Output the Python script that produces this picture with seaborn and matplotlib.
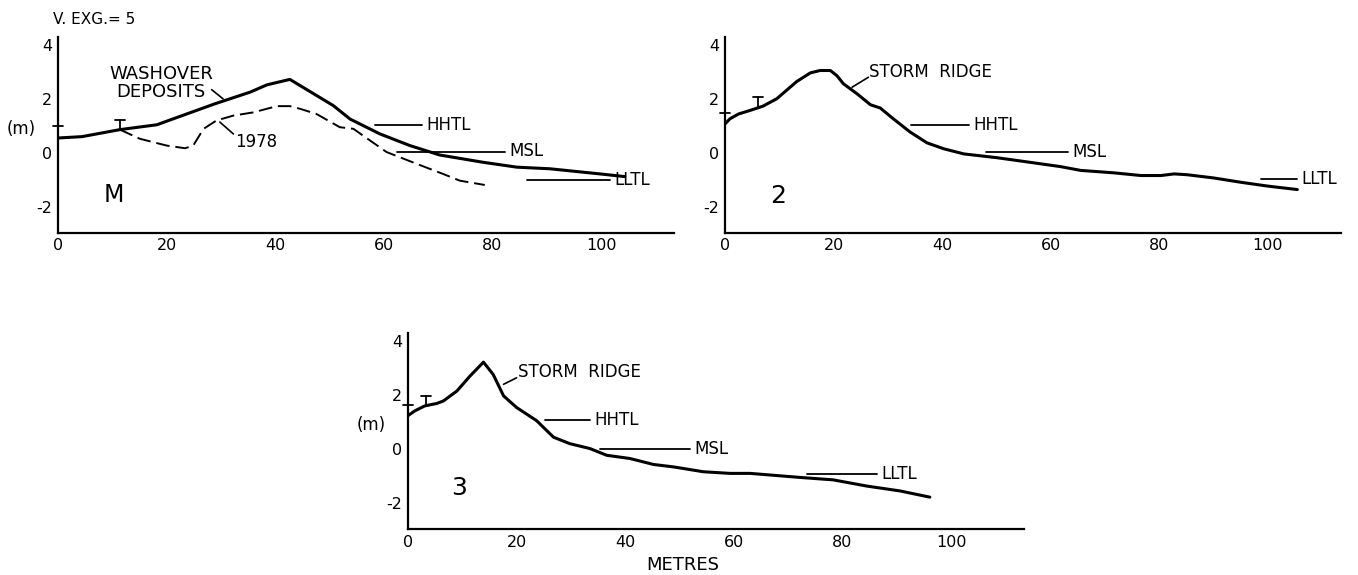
import matplotlib
matplotlib.use("Agg")
import matplotlib.pyplot as plt
import seaborn as sns
import pandas as pd

# ---------------- data ----------------
# Profile M, present surface (solid)
m_x = [0, 4.4, 11.4, 18.2, 23.7, 28.8, 35.4, 38.5, 42.7, 44.6, 50.7, 53.8, 59.3, 64.8, 70.3, 78.3, 84.5, 90.6, 99.8, 104.4]
m_y = [0.55, 0.6, 0.86, 1.04, 1.44, 1.81, 2.25, 2.52, 2.72, 2.49, 1.75, 1.25, 0.70, 0.27, -0.08, -0.35, -0.53, -0.59, -0.78, -0.88]
# Profile M, 1978 surface (dashed)
m78_x = [11.4, 15.1, 20.0, 23.4, 24.9, 26.8, 29.2, 32.3, 36.0, 40.3, 42.7, 44.6, 47.6, 51.9, 54.4, 60.5, 66.1, 70.9, 74.0, 78.6]
m78_y = [0.86, 0.52, 0.27, 0.17, 0.27, 0.89, 1.20, 1.38, 1.50, 1.73, 1.73, 1.63, 1.44, 0.95, 0.89, 0.03, -0.41, -0.78, -1.03, -1.19]
# Profile 2
p2_x = [0, 0.9, 2.5, 4.6, 7.0, 9.5, 11.3, 13.2, 15.7, 17.5, 19.4, 20.6, 21.8, 24.3, 26.8, 28.6, 31.0, 34.1, 37.2, 40.3,
        44.0, 50.1, 56.5, 61.8, 65.5, 71.6, 76.6, 80.3, 82.7, 85.1, 90.0, 95.0, 99.9, 105.4]
p2_y = [1.07, 1.26, 1.44, 1.57, 1.73, 2.0, 2.31, 2.64, 2.96, 3.05, 3.05, 2.86, 2.56, 2.19, 1.78, 1.66, 1.26, 0.77, 0.37, 0.15,
        -0.04, -0.18, -0.36, -0.51, -0.65, -0.74, -0.84, -0.84, -0.78, -0.81, -0.93, -1.09, -1.23, -1.36]
# Profile 3
p3_x = [0, 1.3, 3.1, 5.3, 6.5, 9.0, 11.4, 13.9, 15.7, 17.6, 20.0, 23.7, 26.8, 29.8, 33.5, 36.6, 40.9, 45.2, 48.9, 54.4,
        59.3, 63.0, 72.2, 78.3, 84.5, 90.6, 96.1]
p3_y = [1.25, 1.43, 1.61, 1.70, 1.79, 2.16, 2.71, 3.23, 2.77, 1.98, 1.55, 1.06, 0.45, 0.21, 0.03, -0.22, -0.34, -0.56, -0.65, -0.83,
        -0.89, -0.89, -1.04, -1.13, -1.36, -1.54, -1.77]

# Tide levels: (label, x start, x end, elevation)
m_levels = [("HHTL", 58.4, 67.0, 1.04), ("MSL", 62.4, 82.3, 0.05), ("LLTL", 86.3, 101.6, -0.99)]
p2_levels = [("HHTL", 34.3, 45.0, 1.04), ("MSL", 48.0, 63.1, 0.03), ("LLTL", 98.7, 105.4, -0.96)]
p3_levels = [("HHTL", 25.2, 33.5, 1.10), ("MSL", 35.4, 51.9, 0.03), ("LLTL", 73.4, 86.3, -0.93)]

# Benchmark markers: (x, y bottom, y top)
m_marks = [(0, 0.55, 0.98), (11.4, 0.86, 1.23)]
p2_marks = [(0, 1.07, 1.47), (6.1, 1.69, 2.06)]
p3_marks = [(0, 1.25, 1.63), (3.3, 1.68, 1.98)]

x_ticks = [0, 20, 40, 60, 80, 100]
y_ticks = [-2, 0, 2, 4]
y_ticklabels = ["-2", "0", "2", "4"]

# ---------------- figure ----------------
sns.set_theme(style="white")
plt.rcParams["font.family"] = ["DejaVu Sans"]
plt.rcParams["text.color"] = "black"
plt.rcParams["axes.labelcolor"] = "black"
plt.rcParams["xtick.color"] = "black"
plt.rcParams["ytick.color"] = "black"

W, H = 1358, 575
fig = plt.figure(figsize=(W / 100, H / 100), dpi=100)

XMAX = 113.5
YMIN, YMAX = -2.95, 4.3
AW = XMAX * 5.43 / W
AH = (YMAX - YMIN) * 27.0 / H


def make_ax(left_px, bottom_px):
    ax = fig.add_axes([left_px / W, 1 - bottom_px / H, AW, AH])
    ax.set_xlim(0, XMAX)
    ax.set_ylim(YMIN, YMAX)
    for s in ["top", "right"]:
        ax.spines[s].set_visible(False)
    for s in ["left", "bottom"]:
        ax.spines[s].set_color("black")
        ax.spines[s].set_linewidth(1.6)
    ax.set_xticks(x_ticks)
    ax.set_yticks(y_ticks)
    ax.set_yticklabels(y_ticklabels)
    ax.tick_params(direction="in", length=5, width=1.2, colors="black", labelcolor="black",
                   labelsize=11.5, pad=4)
    ax.set_xlabel("")
    ax.set_ylabel("")
    ax.grid(False)
    ax.patch.set_alpha(0)
    return ax


def profile(ax, xs, ys, **kw):
    df = pd.DataFrame({"x": xs, "y": ys})
    sns.lineplot(data=df, x="x", y="y", ax=ax, color="black", estimator=None, **kw)
    ax.set_xlabel("")
    ax.set_ylabel("")


def levels(ax, lv):
    for name, x0, x1, y in lv:
        ax.plot([x0, x1], [y, y], color="black", lw=1.3)
        ax.text(x1 + 0.8, y, name, fontsize=12, va="center", ha="left", color="black")


def marks(ax, mk):
    for x, y0, y1 in mk:
        ax.plot([x, x], [y0, y1], color="black", lw=1.3, clip_on=False)
        ax.plot([x - 0.9, x + 0.9], [y1, y1], color="black", lw=1.3, clip_on=False)


# Panel M
axM = make_ax(58, 232.5)
profile(axM, m_x, m_y, lw=2.2)
profile(axM, m78_x, m78_y, lw=1.4, linestyle=(0, (7, 3)))
levels(axM, m_levels)
marks(axM, m_marks)
axM.text(19.0, 2.58, "WASHOVER\nDEPOSITS", fontsize=13, ha="center", va="center", linespacing=1.0)
axM.plot([28.3, 30.4], [2.34, 2.0], color="black", lw=1.2)
axM.plot([29.8, 32.3], [1.14, 0.70], color="black", lw=1.2)
axM.text(32.6, 0.40, "1978", fontsize=12, ha="left", va="center")
axM.text(10.2, -1.55, "M", fontsize=17, ha="center", va="center")
fig.text(53 / W, 1 - 20 / H, "V. EXG.= 5", fontsize=11, ha="left", va="center")
fig.text(7 / W, 1 - 129 / H, "(m)", fontsize=12, ha="left", va="center")

# Panel 2
ax2 = make_ax(725, 232.5)
profile(ax2, p2_x, p2_y, lw=2.2)
levels(ax2, p2_levels)
marks(ax2, p2_marks)
ax2.plot([23.4, 26.4], [2.43, 2.80], color="black", lw=1.2)
ax2.text(26.6, 3.0, "STORM  RIDGE", fontsize=12, ha="left", va="center")
ax2.text(9.8, -1.58, "2", fontsize=18, ha="center", va="center")

# Panel 3
ax3 = make_ax(408, 529)
profile(ax3, p3_x, p3_y, lw=2.2)
levels(ax3, p3_levels)
marks(ax3, p3_marks)
ax3.plot([17.6, 20.0], [2.41, 2.65], color="black", lw=1.2)
ax3.text(20.3, 2.85, "STORM  RIDGE", fontsize=12, ha="left", va="center")
ax3.text(9.4, -1.44, "3", fontsize=18, ha="center", va="center")
fig.text(357 / W, 1 - 425 / H, "(m)", fontsize=12, ha="left", va="center")
fig.text(683 / W, 1 - 565 / H, "METRES", fontsize=13, ha="center", va="center")

fig.savefig("out.png", dpi=100, facecolor="white")
